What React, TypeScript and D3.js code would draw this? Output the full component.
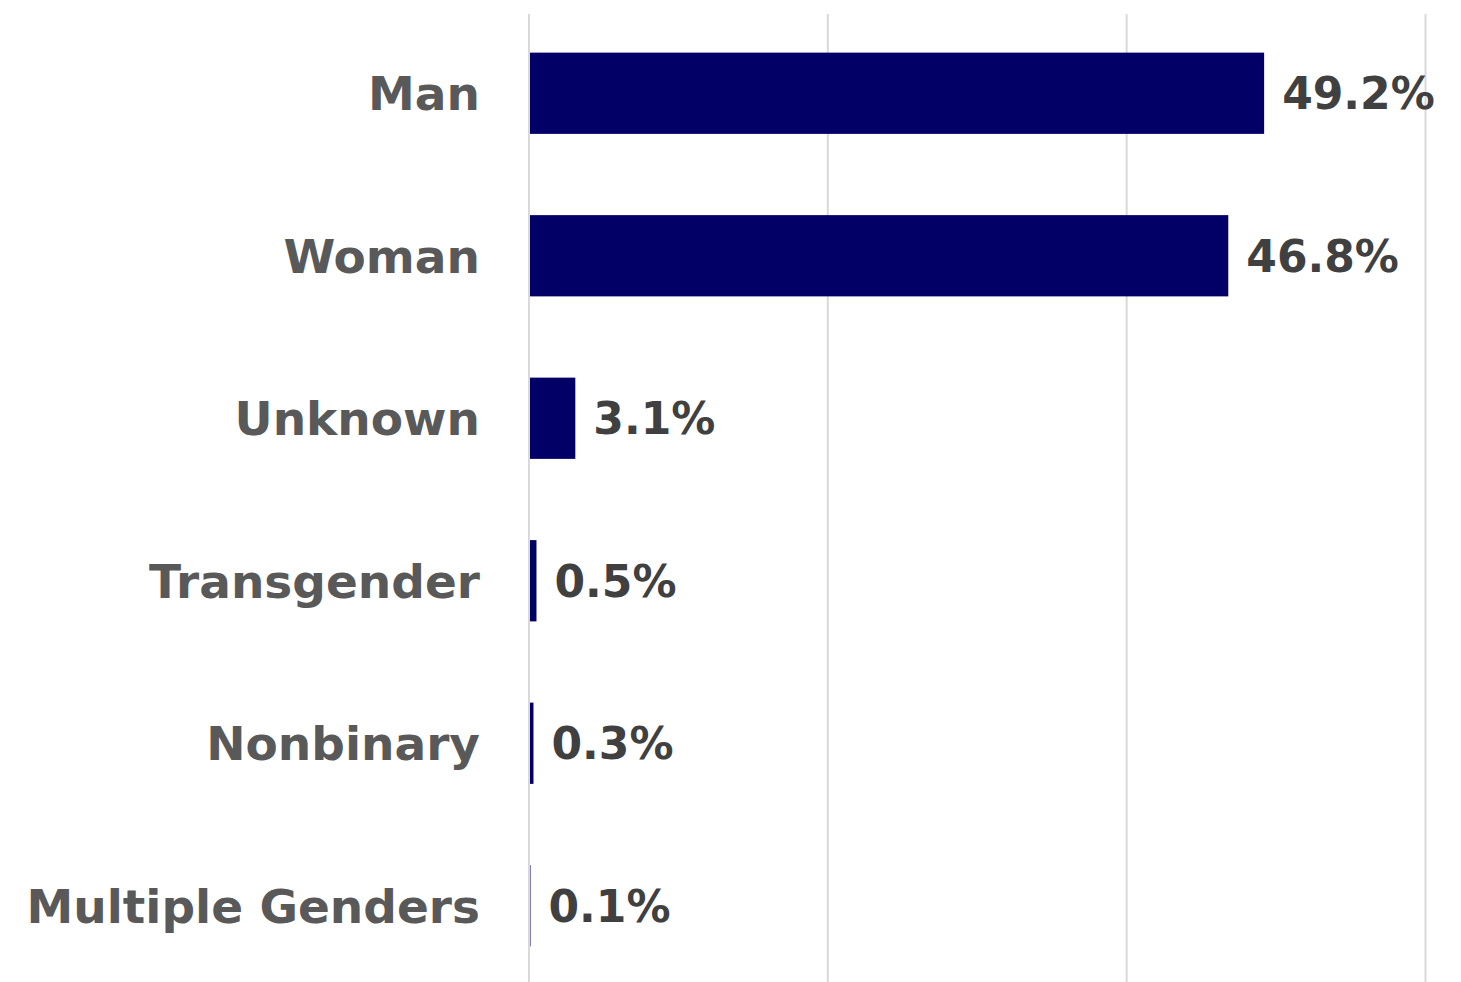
import React from "react";
import * as d3 from "d3";

const categories = ["Man", "Woman", "Unknown", "Transgender", "Nonbinary", "Multiple Genders"];
const values = [49.2, 46.8, 3.1, 0.5, 0.3, 0.1];
const gridTicks = [0, 20, 40, 60];

const W = 1461;
const H = 982;

export default function App() {
  const x = d3.scaleLinear().domain([0, 60]).range([529, 1425.5]);
  const y = d3
    .scaleBand<string>()
    .domain(categories)
    .range([12, 987])
    .paddingInner(0.5)
    .paddingOuter(0.25);
  const font = "'DejaVu Sans', sans-serif";
  return (
    <svg
      width={W}
      height={H}
      style={{ position: "absolute", left: 0, top: 0, background: "#fff" }}
    >
      {gridTicks.map((t) => (
        <line
          key={t}
          x1={x(t)}
          x2={x(t)}
          y1={14}
          y2={H}
          stroke="#d9d9d9"
          strokeWidth={2}
        />
      ))}
      {categories.map((c, i) => {
        const yc = (y(c) as number) + y.bandwidth() / 2;
        return (
          <g key={c}>
            <rect
              x={x(0) + 1}
              y={y(c)}
              width={Math.max(0, x(values[i]) - x(0) - 1)}
              height={y.bandwidth()}
              fill="#020066"
            />
            <text
              x={480}
              y={yc}
              dy="0.36em"
              textAnchor="end"
              fontFamily={font}
              fontWeight="bold"
              fontSize={47}
              fill="#595959"
            >
              {c}
            </text>
            <text
              x={x(values[i]) + 18}
              y={yc}
              dy="0.36em"
              textAnchor="start"
              fontFamily={font}
              fontWeight="bold"
              fontSize={44}
              fill="#404040"
            >
              {values[i].toFixed(1) + "%"}
            </text>
          </g>
        );
      })}
    </svg>
  );
}
